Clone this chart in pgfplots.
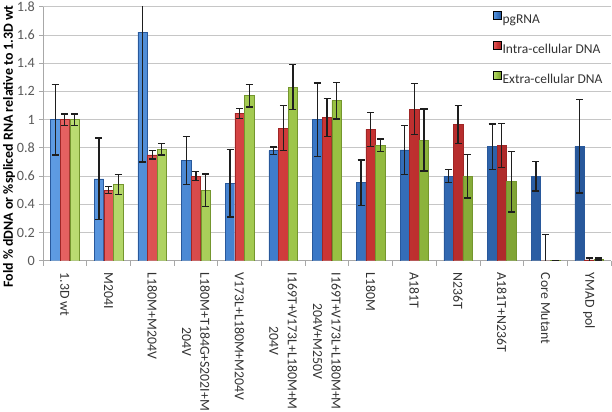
\documentclass[border=0pt]{standalone}
\usepackage{pgfplots}
\pgfplotsset{compat=1.18}
\usepackage{pgfplotstable}
\usepackage{fontspec}
\setmainfont{Carlito}
\definecolor{bL}{HTML}{5E9BE2}\definecolor{bM}{HTML}{3A77C6}\definecolor{bD}{HTML}{28589B}
\definecolor{rL}{HTML}{E56262}\definecolor{rM}{HTML}{CC3434}\definecolor{rD}{HTML}{A02626}
\definecolor{gL}{HTML}{BADC72}\definecolor{gM}{HTML}{98C142}\definecolor{gD}{HTML}{74962E}
\definecolor{gridgray}{HTML}{C6C6C6}
\definecolor{axisgray}{HTML}{A8A8A8}
\definecolor{errcol}{HTML}{1E1E1E}
\definecolor{ticktext}{HTML}{595959}
\definecolor{labtext}{HTML}{333333}
\newcommand\lblfont{\fontsize{13.5bp}{18bp}\selectfont}
\newcommand\xlblfont{\fontsize{13.8bp}{18.4bp}\selectfont}
\newcommand\ytfont{\fontsize{14.2bp}{17bp}\selectfont}

\pgfplotstableread{
x y e
0 1.00 0.25
1 0.58 0.29
2 1.62 0.92
3 0.71 0.17
4 0.55 0.24
5 0.78 0.025
6 1.00 0.26
7 0.553 0.16
8 0.785 0.175
9 0.60 0.045
10 0.808 0.16
11 0.60 0.105
12 0.81 0.33
}\pgrna
\pgfplotstableread{
x y e
0 1.00 0.04
1 0.50 0.025
2 0.75 0.03
3 0.60 0.03
4 1.045 0.035
5 0.94 0.16
6 1.015 0.135
7 0.93 0.12
8 1.075 0.18
9 0.967 0.135
10 0.815 0.155
11 0.0 0.187
12 0.005 0.015
}\intra
\pgfplotstableread{
x y e
0 1.00 0.04
1 0.54 0.07
2 0.79 0.04
3 0.50 0.115
4 1.17 0.08
5 1.23 0.16
6 1.135 0.13
7 0.818 0.045
8 0.855 0.22
9 0.60 0.155
10 0.56 0.215
11 0.003 0.0
12 0.012 0.008
}\extra

\pgfplotsset{
  errplot/.style={forget plot, draw=none, mark=none,
    error bars/.cd, y dir=both, y explicit,
    error bar style={line width=1.3bp, draw=errcol, solid},
    error mark options={rotate=90, mark size=3.5bp, line width=1.3bp, draw=errcol, solid}},
}

\begin{document}
\begin{tikzpicture}
\begin{axis}[
  name=ax,
  scale only axis, width=568bp, height=254bp,
  xmin=-0.5, xmax=12.5, ymin=0, ymax=1.8,
  axis lines=left,
  axis line style={draw=axisgray, -, line width=0.8bp},
  ytick={0,0.2,0.4,0.6,0.8,1,1.2,1.4,1.6,1.8},
  yticklabels={0,0.2,0.4,0.6,0.8,1,1.2,1.4,1.6,1.8},
  ymajorgrids,
  grid style={draw=gridgray, line width=0.8bp},
  xtick={0,...,12},
  xticklabels={1.3D wt, M204I, L180M+M204V, L180M+T184G+S202I+M\\204V, V173L+L180M+M204V, I169T+V173L+L180M+M\\204V, I169T+V173L+L180M+M\\204V+M250V, L180M, A181T, N236T, A181T+N236T, Core Mutant, YMAD pol},
  minor xtick={-0.5,0.5,...,12.5},
  major x tick style={draw=none},
  tick align=outside,
  major tick length=4bp, minor tick length=5bp,
  tick style={draw=axisgray, line width=0.8bp},
  y tick label style={font=\ytfont, text=ticktext, inner sep=0pt, anchor=east},
  yticklabel shift=4bp,
  x tick label style={font=\xlblfont, text=labtext, rotate=-90, anchor=west, align=center, inner sep=0pt},
  xticklabel shift=8bp,
  every axis y label/.style={at={(axis description cs:-0.0599,0.45)}, anchor=center, rotate=90, font=\bfseries\fontsize{13.9bp}{16bp}\selectfont},
  ylabel={Fold \% dDNA or \%spliced RNA relative to 1.3D wt},
  legend style={draw=none, fill=none, at={(axis description cs:0.7917,0.984)}, anchor=north west, inner sep=0pt, font=\lblfont, row sep=13.2bp, nodes={inner sep=1.3bp, text height=9.5bp, text depth=3bp, text=labtext}},
  legend cell align=left,
]
\addlegendimage{legend image code/.code={\fill[left color=bL, right color=bD, middle color=bM] (0bp,1bp) rectangle (8bp,9bp);}}
\addlegendentry{pgRNA}
\addlegendimage{legend image code/.code={\fill[left color=rL, right color=rD, middle color=rM] (0bp,1bp) rectangle (8bp,9bp);}}
\addlegendentry{Intra-cellular DNA}
\addlegendimage{legend image code/.code={\fill[left color=gL, right color=gD, middle color=gM] (0bp,1bp) rectangle (8bp,9bp);}}
\addlegendentry{Extra-cellular DNA}
\addplot[forget plot, ybar, bar width=0.215, bar shift=-0.22, draw=bD, left color=bL, right color=bD, middle color=bM]
  table[x=x, y=y] {\pgrna};
\addplot[forget plot, ybar, bar width=0.215, bar shift=0, draw=rD, left color=rL, right color=rD, middle color=rM]
  table[x=x, y=y] {\intra};
\addplot[forget plot, ybar, bar width=0.215, bar shift=0.22, draw=gD, left color=gL, right color=gD, middle color=gM]
  table[x=x, y=y] {\extra};
\addplot[errplot] table[x expr=\thisrow{x}-0.22, y=y, y error=e] {\pgrna};
\addplot[errplot] table[x=x, y=y, y error=e] {\intra};
\addplot[errplot] table[x expr=\thisrow{x}+0.22, y=y, y error=e] {\extra};
\end{axis}
\pgfresetboundingbox
\path ([xshift=-43bp,yshift=-151.3bp]ax.south west) rectangle ([xshift=1bp,yshift=6.7bp]ax.north east);
\end{tikzpicture}
\end{document}
